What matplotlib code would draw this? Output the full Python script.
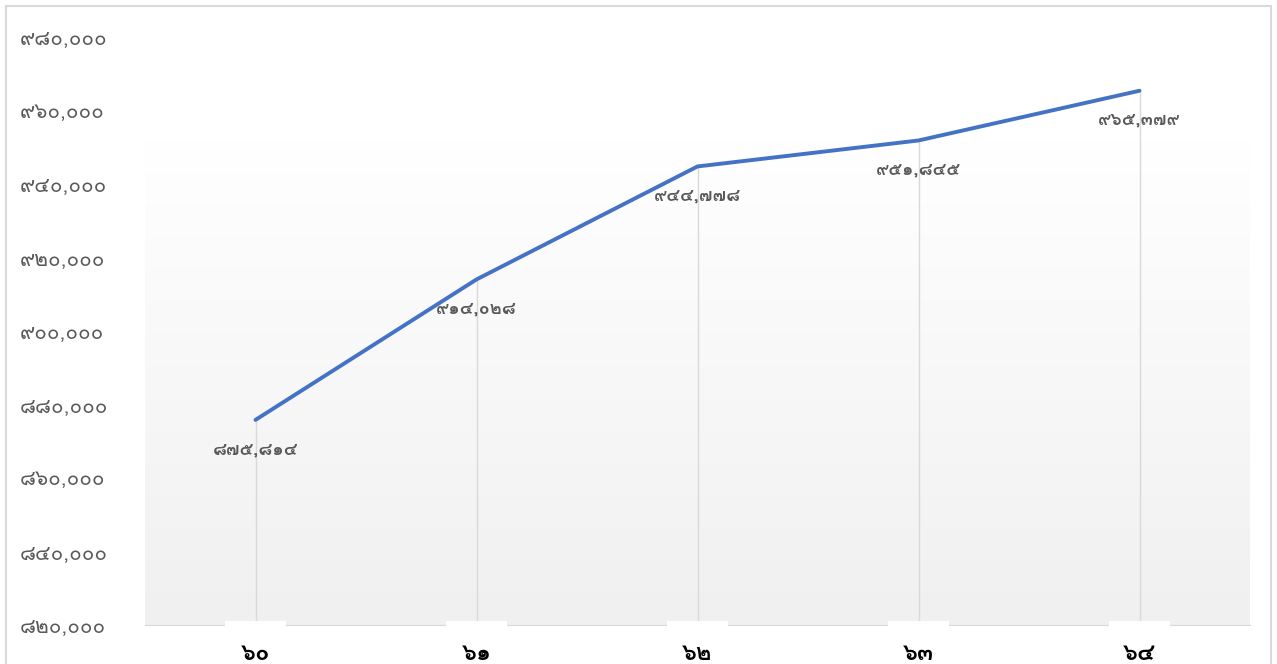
import numpy as np
import matplotlib
matplotlib.use('Agg')
import matplotlib.pyplot as plt
from matplotlib import font_manager, ft2font
from matplotlib.patches import Rectangle
import matplotlib.transforms as mtransforms

# ข้อมูล (ปี พ.ศ. 2560-2564)
years = [60, 61, 62, 63, 64]
values = [875814, 914028, 944778, 951845, 965379]
y_ticks = list(range(820000, 1000000, 20000))

THAI = str.maketrans('0123456789', '๐๑๒๓๔๕๖๗๘๙')

def thai_num(n):
    return f'{n:,}'.translate(THAI)

# หาฟอนต์ที่มีเลขไทย
thai_fonts = []
for f in font_manager.fontManager.ttflist:
    try:
        cmap = ft2font.FT2Font(f.fname).get_charmap()
    except Exception:
        continue
    if 0x0E50 in cmap and f.name not in thai_fonts:
        thai_fonts.append(f.name)
plt.rcParams['font.family'] = thai_fonts[:1] + ['DejaVu Sans']

fig = plt.figure(figsize=(12.77, 6.64), dpi=100)
W, H = 1277, 664
ax = fig.add_axes([145 / W, 1 - 625 / H, (1250 - 145) / W, (625 - 37) / H])

x = np.arange(len(years))
ax.set_xlim(-0.5, len(years) - 0.5)
ax.set_ylim(820000, 980000)

# พื้นหลังไล่เฉด
grad = np.linspace(0, 1, 256).reshape(-1, 1)
ax.imshow(grad, cmap=matplotlib.colors.LinearSegmentedColormap.from_list('g', ['#ffffff', '#f0f0f0']),
          extent=[0, 1, 0, (625 - 140) / (625 - 37)], transform=ax.transAxes,
          aspect='auto', origin='upper', zorder=0)

ax.vlines(x, 820000, values, color='#d9d9d9', lw=1, zorder=1)
ax.plot(x, values, color='#4472c4', lw=2.8, zorder=3, solid_capstyle='round')

for xi, v in zip(x, values):
    ax.annotate(thai_num(v), (xi, v), xytext=(0, -21), textcoords='offset points',
                ha='center', va='center', fontsize=13, color='#595959', fontweight='bold', zorder=4)

for s in ['top', 'right', 'left']:
    ax.spines[s].set_visible(False)
ax.spines['bottom'].set_color('#d9d9d9')

# กล่องขาวใต้ป้ายแกน x
trans = mtransforms.blended_transform_factory(ax.transData, ax.transAxes)
for xi in x:
    ax.add_patch(Rectangle((xi - 0.14, -0.006), 0.28, 0.012, transform=trans,
                           facecolor='white', edgecolor='none', clip_on=False, zorder=5))

ax.set_xticks(x)
ax.set_xticklabels([str(y).translate(THAI) for y in years], fontsize=17, fontweight='bold', color='black')
ax.tick_params(axis='x', length=0, pad=12)
ax.set_yticks(y_ticks)
ax.set_yticklabels([thai_num(t) for t in y_ticks], fontsize=15, color='#595959', ha='left')
ax.tick_params(axis='y', length=0, pad=90)
for lbl in ax.get_yticklabels():
    lbl.set_y(lbl.get_position()[1])

fig.patches.append(Rectangle((6 / W, -0.01), (1271 - 6) / W, 1 - 6 / H + 0.01, transform=fig.transFigure,
                             facecolor='none', edgecolor='#d9d9d9', lw=1.5))

fig.savefig('out.png', dpi=100)
